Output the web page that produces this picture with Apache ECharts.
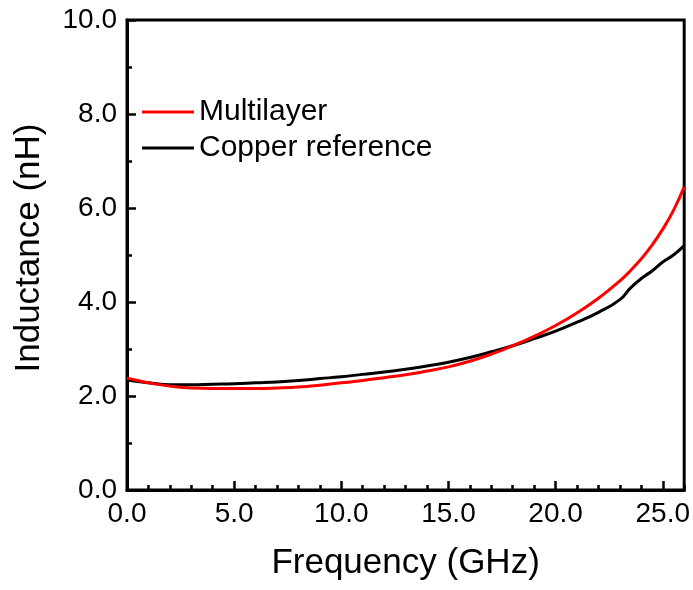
<!DOCTYPE html>
<html>
<head>
<meta charset="utf-8">
<script src="https://cdn.jsdelivr.net/npm/echarts@6/dist/echarts.min.js"></script>
<style>
  html, body { margin: 0; padding: 0; background: #fff; }
  #chart { width: 693px; height: 590px; }
</style>
</head>
<body>
<div id="chart"></div>
<script>
// Frequency sweep points (GHz)
const frequency = [0, 0.5, 1, 2, 3, 4, 5, 6, 7, 8, 9, 10, 11, 12, 13, 14, 15, 16, 17, 18, 19, 20, 21, 22, 23, 23.5, 24, 24.5, 25, 25.5, 26];

// Inductance (nH) of the multilayer conductor
const multilayer = [2.38, 2.33, 2.28, 2.21, 2.17, 2.16, 2.16, 2.16, 2.17, 2.19, 2.23, 2.28, 2.33, 2.39, 2.45, 2.53, 2.62, 2.74, 2.89, 3.07, 3.27, 3.50, 3.77, 4.08, 4.45, 4.67, 4.92, 5.21, 5.55, 5.95, 6.45];

// Inductance (nH) of the copper reference
const copper = [2.34, 2.31, 2.28, 2.24, 2.24, 2.25, 2.26, 2.28, 2.30, 2.33, 2.37, 2.41, 2.46, 2.51, 2.57, 2.64, 2.72, 2.82, 2.94, 3.07, 3.22, 3.38, 3.57, 3.78, 4.05, 4.30, 4.50, 4.66, 4.85, 5.00, 5.20];

const seriesNames = ['Multilayer', 'Copper reference'];

const FONT = 'Liberation Sans, Arial, sans-serif';

const pairs = (ys) => frequency.map((f, i) => [f, ys[i]]);

const chart = echarts.init(document.getElementById('chart'), null, { renderer: 'canvas' });

chart.setOption({
  animation: false,
  backgroundColor: '#fff',
  grid: {
    left: 127, right: 8, top: 20, bottom: 100,
    show: true, borderColor: '#000', borderWidth: 3, backgroundColor: 'transparent'
  },
  legend: {
    data: seriesNames,
    orient: 'vertical',
    left: 142,
    top: 94,
    padding: 0,
    itemGap: 0,
    itemWidth: 52,
    itemHeight: 3,
    icon: 'rect',
    textStyle: { fontFamily: FONT, fontSize: 30, color: '#000', lineHeight: 36 }
  },
  xAxis: [
    {
      type: 'value',
      min: 0, max: 26, interval: 5,
      name: 'Frequency (GHz)',
      nameLocation: 'middle',
      nameGap: 56,
      nameTextStyle: { fontFamily: FONT, fontSize: 35, color: '#000' },
      axisLine: { show: true, lineStyle: { color: '#000', width: 3 } },
      axisTick: { show: true, inside: true, length: 9, lineStyle: { color: '#000', width: 2.5 } },
      axisLabel: {
        fontFamily: FONT, fontSize: 28, color: '#000', margin: 10,
        showMaxLabel: false,
        formatter: (v) => v.toFixed(1)
      },
      splitLine: { show: false }
    },
    {
      // minor ticks every 1 GHz
      type: 'value',
      position: 'bottom',
      min: 0, max: 26, interval: 1,
      axisLine: { show: false },
      axisTick: { show: true, inside: true, length: 5, lineStyle: { color: '#000', width: 2.5 } },
      axisLabel: { show: false },
      splitLine: { show: false }
    }
  ],
  yAxis: {
    type: 'value',
    min: 0, max: 10, interval: 2,
    name: 'Inductance (nH)',
    nameLocation: 'middle',
    nameGap: 80,
    nameTextStyle: { fontFamily: FONT, fontSize: 35, color: '#000', padding: [0, 0, 0, 14] },
    axisLine: { show: true, lineStyle: { color: '#000', width: 3 } },
    axisTick: { show: true, inside: true, length: 9, lineStyle: { color: '#000', width: 2.5 } },
    minorTick: { show: true, splitNumber: 2, length: 5, lineStyle: { color: '#000', width: 2.5 } },
    axisLabel: {
      fontFamily: FONT, fontSize: 28, color: '#000', margin: 10,
      formatter: (v) => v.toFixed(1)
    },
    splitLine: { show: false }
  },
  series: [
    {
      name: 'Copper reference',
      type: 'line',
      xAxisIndex: 0,
      data: pairs(copper),
      smooth: true,
      showSymbol: false,
      symbol: 'none',
      lineStyle: { color: '#000', width: 3 },
      itemStyle: { color: '#000' }
    },
    {
      name: 'Multilayer',
      type: 'line',
      xAxisIndex: 0,
      data: pairs(multilayer),
      smooth: true,
      showSymbol: false,
      symbol: 'none',
      lineStyle: { color: '#f00', width: 3 },
      itemStyle: { color: '#f00' }
    }
  ]
});
</script>
</body>
</html>
